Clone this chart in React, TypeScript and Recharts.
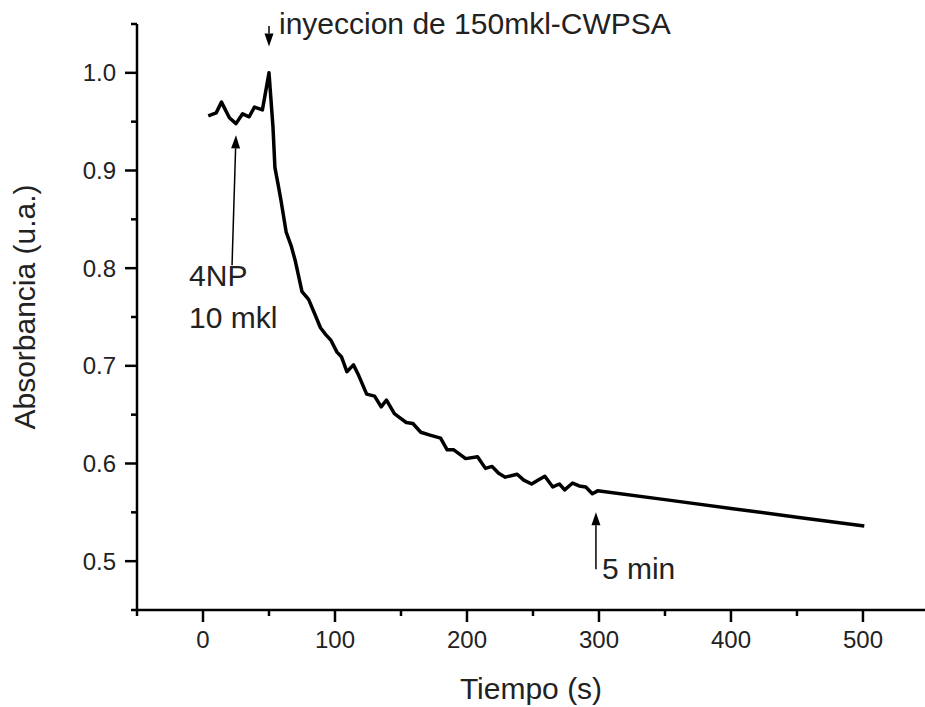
import { LineChart, Line, XAxis, YAxis, ReferenceLine } from "recharts";

// time (s) and absorbance
const tiempo = [
  4, 10, 14, 20, 25, 30, 35, 39, 45, 50, 53, 54.5, 57, 59, 63, 67, 70, 75, 80, 85, 89, 93, 97,
  101.5, 105, 109, 114, 118, 124, 130, 135, 139, 145, 150, 154, 159, 165, 172, 180, 185, 190,
  199, 208, 214, 219, 224, 229, 238, 243, 249, 254, 259, 265, 270, 274, 280, 285, 290, 295, 299,
  350, 400, 450, 501,
];
const absorbancia = [
  0.956, 0.959, 0.97, 0.954, 0.948, 0.958, 0.955, 0.965, 0.962, 1.0, 0.945, 0.903, 0.885, 0.87,
  0.837, 0.822, 0.807, 0.776, 0.768, 0.752, 0.739, 0.732, 0.726, 0.714, 0.709, 0.694, 0.701,
  0.69, 0.671, 0.669, 0.658, 0.665, 0.651, 0.646, 0.642, 0.641, 0.632, 0.629, 0.626, 0.614,
  0.614, 0.605, 0.607, 0.595, 0.597, 0.59, 0.586, 0.589, 0.583, 0.579, 0.583, 0.587, 0.576,
  0.579, 0.573, 0.58, 0.577, 0.576, 0.569, 0.572, 0.563, 0.554, 0.545, 0.536,
];

const xTicks = [-50, 0, 50, 100, 150, 200, 250, 300, 350, 400, 450, 500];
const yTicks = [0.45, 0.5, 0.55, 0.6, 0.65, 0.7, 0.75, 0.8, 0.85, 0.9, 0.95, 1.0, 1.05];

// annotation arrows: [tail, tip] in data units
const arrowInyeccion = [{ x: 50, y: 1.048 }, { x: 50, y: 1.027 }];
const arrow4NP = [{ x: 22, y: 0.803 }, { x: 25, y: 0.936 }];
const arrow5min = [{ x: 297.7, y: 0.4916 }, { x: 297.7, y: 0.55 }];

const data = tiempo.map((t, i) => ({ t, a: absorbancia[i] }));

const FONT = "'Liberation Sans', Arial, sans-serif";
const INK = "#222";

function XTick({ x, y, payload }: any) {
  const v = payload.value;
  const major = v % 100 === 0;
  return (
    <g>
      <line x1={x} y1={y} x2={x} y2={y + (major ? 12 : 6)} stroke="#000" strokeWidth={2.5} />
      {major && v >= 0 && (
        <text x={x} y={y + 38} textAnchor="middle" fontSize={24} fontFamily={FONT} fill={INK}>
          {v}
        </text>
      )}
    </g>
  );
}

function YTick({ x, y, payload }: any) {
  const v = payload.value;
  const major = Math.round(v * 100) % 10 === 0;
  const showLabel = major && v > 0.46 && v < 1.04;
  return (
    <g>
      <line x1={x - (major ? 12 : 6)} y1={y} x2={x} y2={y} stroke="#000" strokeWidth={2.5} />
      {showLabel && (
        <text x={x - 21} y={y + 8.5} textAnchor="end" fontSize={24} fontFamily={FONT} fill={INK}>
          {v.toFixed(1)}
        </text>
      )}
    </g>
  );
}

// arrow from tail (x1,y1) to tip (x2,y2) plus text lines placed relative to the tail
function arrowShape(lines: string[], dx: number, dy: number, lineGap = 42) {
  return (p: any) => {
    const { x1, y1, x2, y2 } = p;
    const ang = Math.atan2(y2 - y1, x2 - x1);
    const len = 13;
    const half = 4.5;
    const bx = x2 - len * Math.cos(ang);
    const by = y2 - len * Math.sin(ang);
    const px = -Math.sin(ang) * half;
    const py = Math.cos(ang) * half;
    return (
      <g>
        <line x1={x1} y1={y1} x2={bx} y2={by} stroke="#000" strokeWidth={1.5} />
        <polygon points={`${x2},${y2} ${bx + px},${by + py} ${bx - px},${by - py}`} fill="#000" />
        {lines.map((s, i) => (
          <text
            key={i}
            x={x1 + dx}
            y={y1 + dy + i * lineGap}
            fontSize={30}
            fontFamily={FONT}
            fill={INK}
          >
            {s}
          </text>
        ))}
      </g>
    );
  };
}

function YTitle({ viewBox }: any) {
  const cx = viewBox.x + 24;
  const cy = viewBox.y + viewBox.height / 2 - 10;
  return (
    <text
      x={cx}
      y={cy}
      transform={`rotate(-90 ${cx} ${cy})`}
      textAnchor="middle"
      dy={10.5}
      fontSize={30}
      fontFamily={FONT}
      fill={INK}
    >
      Absorbancia (u.a.)
    </text>
  );
}

export default function App() {
  return (
    <div style={{ position: "absolute", left: 0, top: 0, width: 925, height: 707, background: "#fff" }}>
      <LineChart width={925} height={707} data={data} margin={{ top: 24, right: 0, bottom: 0, left: 0 }}>
        <XAxis
          type="number"
          dataKey="t"
          domain={[-50, 547]}
          allowDataOverflow
          ticks={xTicks}
          interval={0}
          height={97}
          tickSize={0}
          tickMargin={0}
          tick={<XTick />}
          axisLine={{ stroke: "#000", strokeWidth: 2.5 }}
          label={{
            value: "Tiempo (s)",
            position: "insideBottom",
            offset: 8,
            fontSize: 30,
            fontFamily: FONT,
            fill: INK,
          }}
        />
        <YAxis
          type="number"
          domain={[0.45, 1.05]}
          ticks={yTicks}
          interval={0}
          width={137}
          tickSize={0}
          tickMargin={0}
          tick={<YTick />}
          axisLine={{ stroke: "#000", strokeWidth: 2.5 }}
          label={<YTitle />}
        />
        <Line
          type="linear"
          dataKey="a"
          stroke="#000"
          strokeWidth={3.5}
          strokeLinejoin="round"
          dot={false}
          isAnimationActive={false}
        />
        <ReferenceLine
          segment={arrowInyeccion}
          ifOverflow="visible"
          shape={arrowShape(["inyeccion de 150mkl-CWPSA"], 10, 8)}
        />
        <ReferenceLine
          segment={arrow4NP}
          ifOverflow="visible"
          shape={arrowShape(["4NP", "10 mkl"], -43, 21)}
        />
        <ReferenceLine
          segment={arrow5min}
          ifOverflow="visible"
          shape={arrowShape(["5 min"], 6, 10)}
        />
      </LineChart>
    </div>
  );
}
